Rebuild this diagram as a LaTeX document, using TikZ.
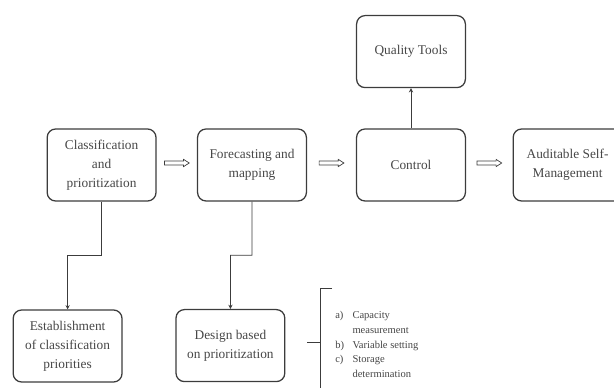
\documentclass[tikz,border=0pt]{standalone}
\usepackage{fontspec}
\setmainfont{Liberation Serif}
\usepackage{tikz}
\usetikzlibrary{arrows.meta, positioning, calc}
\definecolor{LineGray}{RGB}{60,60,60}
\definecolor{TextGray}{RGB}{70,70,70}

\begin{document}
\begin{tikzpicture}[
        sbox/.style={draw=LineGray,line width=0.9pt,rounded corners=6pt,
                     text=TextGray,font=\fontsize{9.5}{13.5}\selectfont,
                     minimum width=2.72cm,minimum height=1.8cm,align=center},
        arr/.style={-{Stealth[length=3pt,width=3pt]},LineGray,line width=0.5pt},
        harr/.style={LineGray,line width=0.5pt,
                     to path={($(\tikztostart)!.5!(\tikztotarget)+(-0.31,0.1)$)
                       -- ++(0.48,0) -- ++(0,0.04) -- ++(0.14,-0.09) -- ++(-0.14,-0.09)
                       -- ++(0,0.04) -- ++(-0.48,0) -- cycle}}
      ]
        \useasboundingbox (0,0) rectangle (15.35,9.7);
        \node[sbox] (cls) at (2.54,5.575)   {Classification\\and\\prioritization};
        \node[sbox] (fct) at (6.3,5.575)    {Forecasting and\\mapping};
        \node[sbox] (ctl) at (10.275,5.575) {Control};
        \node[sbox] (qt)  at (10.275,8.41)  {Quality Tools};
        \node[sbox] (aud) at (14.19,5.575)  {Auditable Self-\\Management};
        \node[sbox] (est) at (1.69,1.05)    {Establishment\\of classification\\priorities};
        \node[sbox] (dsg) at (5.76,1.06)    {Design based\\on prioritization};
        \draw[harr] (cls.east) to (fct.west);
        \draw[harr] (fct.east) to (ctl.west);
        \draw[harr] (ctl.east) to (aud.west);
        \draw[arr] (ctl.north) -- (qt.south);
        \draw[arr] (cls.south) -- ($(cls.south)!.5!(cls.south|-est.north)$) -| (est.north);
        \draw[arr] (fct.south) -- ($(fct.south)!.5!(fct.south|-dsg.north)$) -| (dsg.north);
        \draw[LineGray,line width=0.5pt] (8.3,2.5) -- (8.0,2.5) -- (8.0,-0.2)
              (7.675,1.15) -- (8.0,1.15);
        \node[anchor=north west,text=TextGray,inner sep=0pt,
              font=\fontsize{7.5}{10.5}\selectfont] (lst) at (8.375,2.0)
              {\begin{tabular}{@{}l@{\hspace{6pt}}l@{}}
                a) & Capacity\\
                   & measurement\\
                b) & Variable setting\\
                c) & Storage\\
                   & determination
              \end{tabular}};
      \end{tikzpicture}
\end{document}
